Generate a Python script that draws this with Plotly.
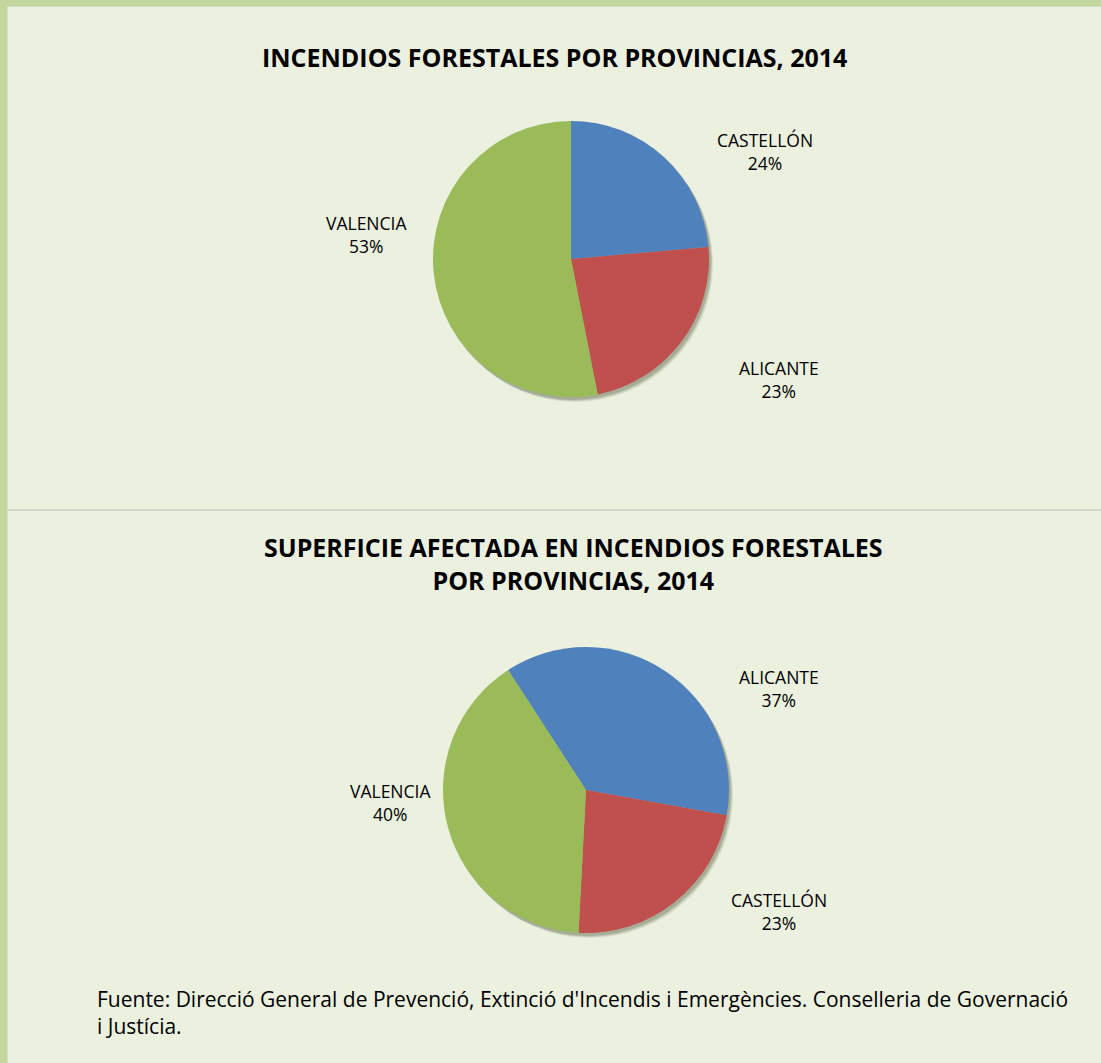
import plotly.graph_objects as go

W, H = 1101, 1063

# Data
title1 = "INCENDIOS FORESTALES POR PROVINCIAS, 2014"
labels1 = ["CASTELLÓN", "ALICANTE", "VALENCIA"]
values1 = [23.6, 23.3, 53.1]
colors1 = ["#4F81BD", "#C0504D", "#9BBB59"]

title2 = "SUPERFICIE AFECTADA EN INCENDIOS FORESTALES<br>POR PROVINCIAS, 2014"
labels2 = ["ALICANTE", "CASTELLÓN", "VALENCIA"]
values2 = [37, 23, 40]
colors2 = ["#4F81BD", "#C0504D", "#9BBB59"]

source = ("Fuente: Direcció General de Prevenció, Extinció d'Incendis i Emergències. Conselleria de Governació"
          "<br>i Justícia.")

BG = "#EBF0DF"
BORDER = "#C3D69B"
FONT = "Open Sans"


def px_dom(cx, cy, r):
    return dict(x=[(cx - r) / W, (cx + r) / W], y=[1 - (cy + r) / H, 1 - (cy - r) / H])


fig = go.Figure()

def add_pie(labels, values, colors, cx, cy, r, rotation):
    # soft shadow
    for off, alpha in [(4, 0.10), (3, 0.15), (2, 0.2)]:
        fig.add_trace(go.Pie(values=[1], labels=["s"], marker=dict(colors=[f"rgba(60,70,40,{alpha})"], line=dict(width=0)),
                             domain=px_dom(cx + off, cy + off + 1, r), textinfo="none", hoverinfo="skip",
                             showlegend=False, sort=False))
    fig.add_trace(go.Pie(labels=labels, values=values, marker=dict(colors=colors, line=dict(width=0)),
                         domain=px_dom(cx, cy, r), textinfo="none", sort=False, direction="clockwise",
                         rotation=rotation, showlegend=False))

add_pie(labels1, values1, colors1, 571, 259, 138, 0)
add_pie(labels2, values2, colors2, 586, 790, 143, -33)

ann = []
def lab(text, x, y):
    ann.append(dict(text=text, x=x / W, y=1 - y / H, xref="paper", yref="paper", showarrow=False,
                    font=dict(family=FONT, size=17.5, color="#000000"), xanchor="center", yanchor="middle"))

tot1 = sum(values1)
pos1 = [(765, 151), (779, 380), (366, 234)]
for l, v, (x, y) in zip(labels1, values1, pos1):
    lab(f"{l}<br>{round(100 * v / tot1)}%", x, y)
tot2 = sum(values2)
pos2 = [(779, 688), (779, 911), (390, 802)]
for l, v, (x, y) in zip(labels2, values2, pos2):
    lab(f"{l}<br>{round(100 * v / tot2)}%", x, y)

ann.append(dict(text=f"<b>{title1}</b>", x=554 / W, y=1 - 57 / H, xref="paper", yref="paper", showarrow=False,
                font=dict(family=FONT, size=25, color="#000000"), xanchor="center", yanchor="middle"))
ann.append(dict(text=f"<b>{title2}</b>", x=573 / W, y=1 - 563 / H, xref="paper", yref="paper", showarrow=False,
                font=dict(family=FONT, size=25, color="#000000"), xanchor="center", yanchor="middle"))
ann.append(dict(text=source, x=95 / W, y=1 - 1012 / H, xref="paper", yref="paper", showarrow=False, align="left",
                font=dict(family=FONT, size=21, color="#000000"), xanchor="left", yanchor="middle"))

shapes = [
    dict(type="rect", xref="paper", yref="paper", x0=0, x1=7 / W, y0=0, y1=1, fillcolor=BORDER, line=dict(width=0), layer="below"),
    dict(type="rect", xref="paper", yref="paper", x0=0, x1=1, y0=1 - 6 / H, y1=1, fillcolor=BORDER, line=dict(width=0), layer="below"),
    dict(type="rect", xref="paper", yref="paper", x0=7 / W, x1=1, y0=1 - 7 / H, y1=1 - 6 / H, fillcolor="#D6DCC8", line=dict(width=0), layer="below"),
    dict(type="rect", xref="paper", yref="paper", x0=7 / W, x1=8 / W, y0=0, y1=1 - 6 / H, fillcolor="#D6DCC8", line=dict(width=0), layer="below"),
    dict(type="rect", xref="paper", yref="paper", x0=8 / W, x1=1, y0=1 - 511 / H, y1=1 - 509 / H, fillcolor="#D5D8CF", line=dict(width=0), layer="below"),
]

fig.update_layout(width=W, height=H, margin=dict(l=0, r=0, t=0, b=0), paper_bgcolor=BG, plot_bgcolor=BG,
                  annotations=ann, shapes=shapes, font=dict(family=FONT))
fig.write_html("out.html", config={"displayModeBar": False},
               post_script="document.body.style.margin='0';document.body.style.overflow='hidden';")
